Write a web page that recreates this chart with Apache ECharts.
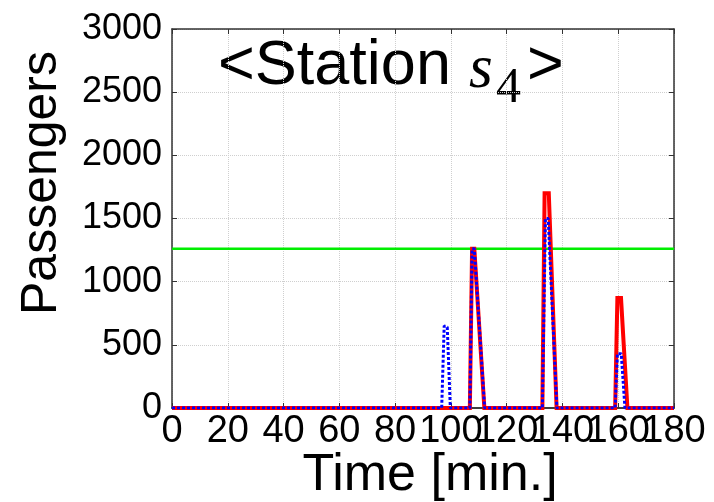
<!DOCTYPE html>
<html>
<head>
<meta charset="utf-8">
<script src="https://cdn.jsdelivr.net/npm/echarts@6/dist/echarts.min.js"></script>
<style>
html,body{margin:0;padding:0;background:#fff;}
#main{width:714px;height:502px;}
</style>
</head>
<body>
<div id="main"></div>
<script>
// x ticks (minutes) and y ticks (passengers)
var xTicks = [0, 20, 40, 60, 80, 100, 120, 140, 160, 180];
var yTicks = [0, 500, 1000, 1500, 2000, 2500, 3000];

// red curve (solid)
var redTime = [0, 106.8, 107.6, 108.4, 112.0, 132.8, 133.6, 135.1, 137.9, 158.9, 159.7, 161.0, 163.3, 180];
var redVals = [0, 0, 1260, 1260, 0, 0, 1700, 1700, 0, 0, 870, 870, 0, 0];

// blue curve (dotted)
var blueTime = [0, 96.7, 97.6, 98.7, 99.8, 106.8, 107.6, 108.4, 112.1, 132.8, 133.9, 134.9, 138.0, 158.9, 159.7, 161.1, 162.4, 180];
var blueVals = [0, 0, 650, 640, 0, 0, 1260, 1260, 0, 0, 1500, 1500, 0, 0, 430, 430, 0, 0];

// capacity line (green)
var capTime = [0, 180];
var capVals = [1260, 1260];

function zip(t, v) {
    var out = [];
    for (var i = 0; i < t.length; i++) out.push([t[i], v[i]]);
    return out;
}

var chart = echarts.init(document.getElementById('main'));

var sans = 'Liberation Sans';
var lineCol = '#333';
var xMin = xTicks[0], xMax = xTicks[xTicks.length - 1];
var xStep = xTicks[1] - xTicks[0];

// the x labels are wider than the tick spacing (they touch in the original),
// so odd and even ones go on two stacked bottom axes, otherwise echarts drops some
function xLabel(odd) {
    return function (v) {
        var k = Math.round((v - xMin) / xStep);
        return (k % 2 === 1) === odd ? String(v) : '';
    };
}

function bottomAxis(odd, grid) {
    return {
        type: 'value', position: 'bottom',
        min: xMin, max: xMax, interval: xStep,
        axisLine: {show: true, onZero: false, lineStyle: {color: lineCol, width: 1.5}},
        axisTick: {show: true, inside: true, length: 5, lineStyle: {color: lineCol}},
        axisLabel: {fontFamily: sans, fontSize: 38, color: '#000', margin: 5,
            showMinLabel: true, showMaxLabel: true, hideOverlap: false,
            formatter: xLabel(odd)},
        splitLine: {show: grid, lineStyle: {color: '#cfcfcf', type: 'dotted', width: 1}}
    };
}

var option = {
    animation: false,
    grid: {left: 172, right: 40, top: 29, bottom: 94, outerBoundsMode: 'none', containLabel: false},
    xAxis: [bottomAxis(false, true), bottomAxis(true, false), {
        type: 'value', position: 'top',
        min: xMin, max: xMax, interval: xStep,
        axisLine: {show: true, onZero: false, lineStyle: {color: lineCol, width: 1.5}},
        axisTick: {show: true, inside: true, length: 5, lineStyle: {color: lineCol}},
        axisLabel: {show: false},
        splitLine: {show: false}
    }],
    yAxis: [{
        type: 'value',
        min: yTicks[0], max: yTicks[yTicks.length - 1], interval: 500,
        axisLine: {show: true, onZero: false, lineStyle: {color: lineCol, width: 1.5}},
        axisTick: {show: true, inside: true, length: 5, lineStyle: {color: lineCol}},
        axisLabel: {fontFamily: sans, fontSize: 36, color: '#000', margin: 10,
            formatter: function (v) { return String(v); }},
        splitLine: {show: true, lineStyle: {color: '#cfcfcf', type: 'dotted', width: 1}}
    }, {
        type: 'value', position: 'right',
        min: yTicks[0], max: yTicks[yTicks.length - 1], interval: 500,
        axisLine: {show: true, onZero: false, lineStyle: {color: lineCol, width: 1.5}},
        axisTick: {show: true, inside: true, length: 5, lineStyle: {color: lineCol}},
        axisLabel: {show: false},
        splitLine: {show: false}
    }],
    series: [{
        type: 'line',
        data: zip(capTime, capVals),
        symbol: 'none',
        lineStyle: {color: '#00ee00', width: 2.5},
        z: 2
    }, {
        type: 'line',
        data: zip(redTime, redVals),
        symbol: 'none',
        lineStyle: {color: '#ff0000', width: 4, join: 'miter'},
        z: 3
    }, {
        type: 'line',
        data: zip(blueTime, blueVals),
        symbol: 'none',
        lineStyle: {color: '#0000ff', width: 3, type: [3, 2]},
        z: 4
    }],
    graphic: [{
        type: 'text', x: 42, y: 183, rotation: Math.PI / 2,
        style: {text: 'Passengers', fontFamily: sans, fontSize: 50, fill: '#000', align: 'center', verticalAlign: 'middle'}
    }, {
        type: 'text', x: 430, y: 476,
        style: {text: 'Time [min.]', fontFamily: sans, fontSize: 52, fill: '#000', align: 'center', verticalAlign: 'middle'}
    }, {
        type: 'text', x: 218, y: 67,
        style: {text: '<Station', fontFamily: sans, fontSize: 63, fill: '#000', align: 'left', verticalAlign: 'middle'}
    }, {
        type: 'text', x: 469, y: 71,
        style: {text: 's', fontFamily: 'Liberation Serif', fontStyle: 'italic', fontSize: 61, fill: '#000', align: 'left', verticalAlign: 'middle'}
    }, {
        type: 'text', x: 496, y: 89,
        style: {text: '4', fontFamily: 'Liberation Serif', fontSize: 50, fill: '#000', align: 'left', verticalAlign: 'middle'}
    }, {
        type: 'text', x: 527, y: 67,
        style: {text: '>', fontFamily: sans, fontSize: 63, fill: '#000', align: 'left', verticalAlign: 'middle'}
    }]
};

chart.setOption(option);
</script>
</body>
</html>
